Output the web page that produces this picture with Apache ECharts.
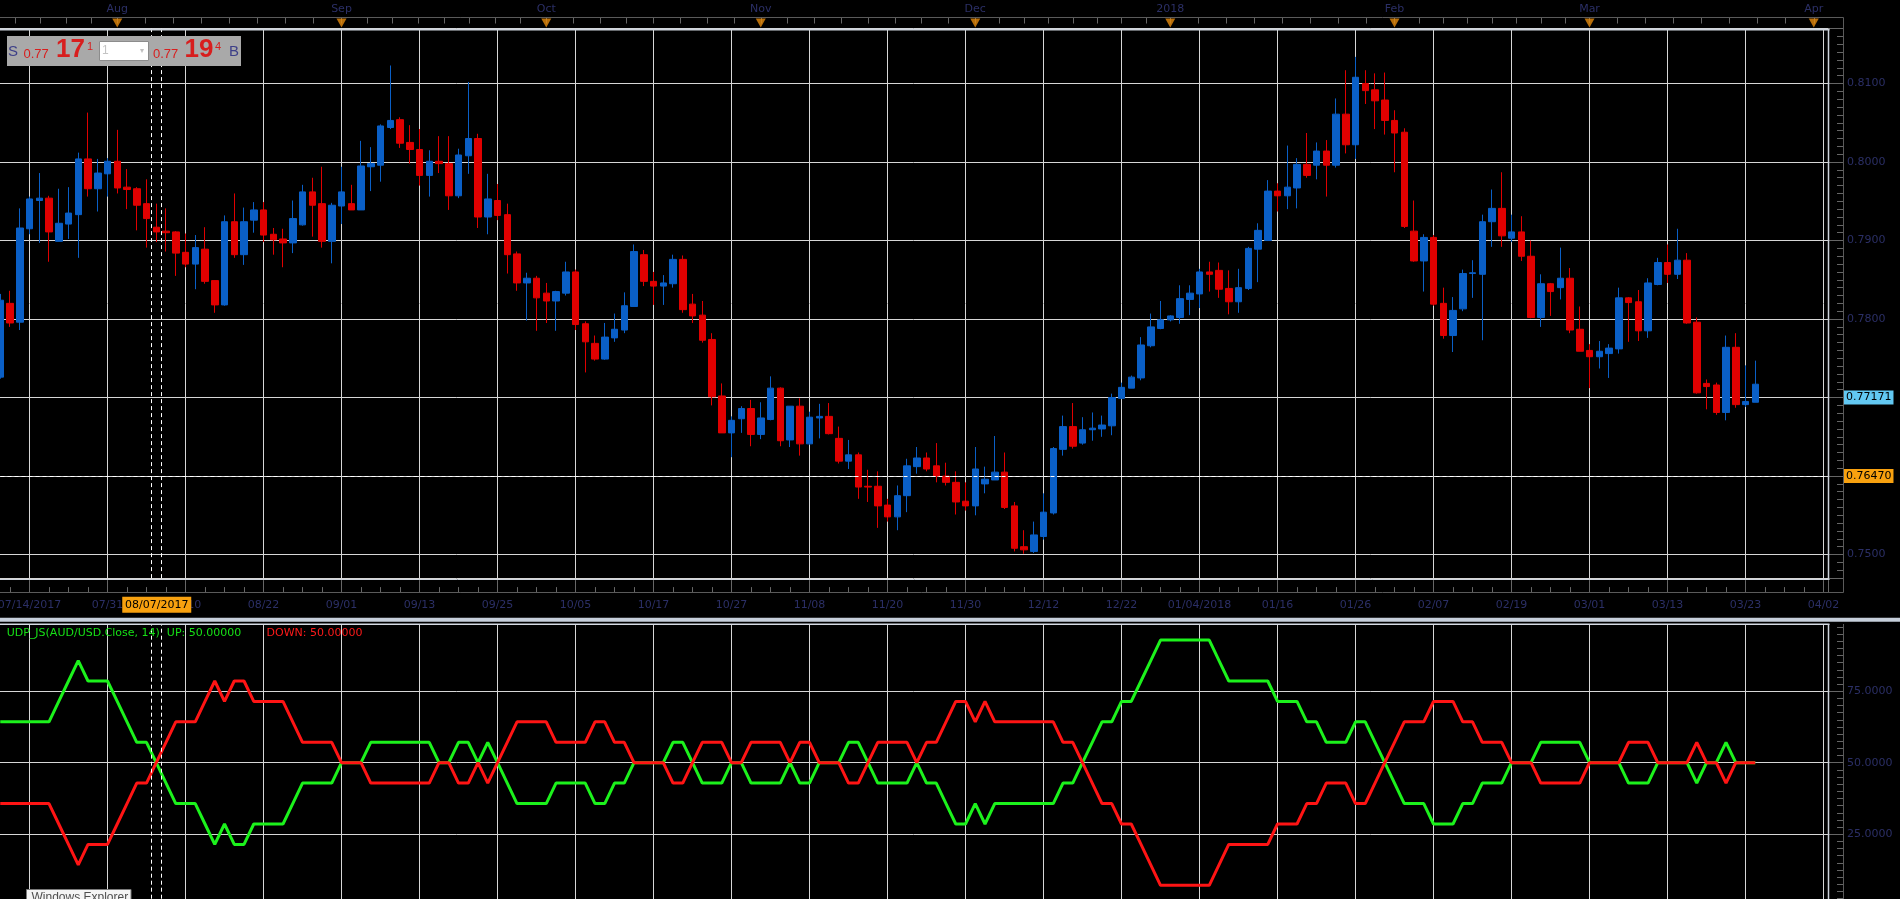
<!DOCTYPE html>
<html><head><meta charset="utf-8">
<script src="https://cdn.jsdelivr.net/npm/echarts@6/dist/echarts.min.js"></script>
<style>html,body{margin:0;padding:0;background:#000;overflow:hidden}#c{width:1900px;height:899px}</style>
</head><body><div id="c"></div>
<script>
// ---------------- DATA ----------------
const firstSlot = -3; // slot index of the first candle (slots are trading days, 0 = first labelled grid line)
const opens = [0.7726,0.7820,0.7796,0.7915,0.7951,0.7954,0.7899,0.7921,0.7933,0.8004,
 0.7966,0.7985,0.8001,0.7968,0.7966,0.7947,0.7917,0.7912,0.7911,0.7885,
 0.7870,0.7889,0.7849,0.7818,0.7924,0.7882,0.7926,0.7939,0.7908,0.7902,
 0.7897,0.7920,0.7962,0.7947,0.7899,0.7944,0.7947,0.7939,0.7994,0.7996,
 0.8044,0.8054,0.8025,0.8016,0.7983,0.8001,0.7998,0.7957,0.8008,0.8030,
 0.7930,0.7951,0.7933,0.7883,0.7846,0.7852,0.7833,0.7823,0.7833,0.7860,
 0.7794,0.7769,0.7749,0.7776,0.7786,0.7816,0.7882,0.7848,0.7842,0.7845,
 0.7876,0.7819,0.7805,0.7774,0.7702,0.7655,0.7673,0.7686,0.7653,0.7672,
 0.7712,0.7646,0.7689,0.7641,0.7674,0.7676,0.7648,0.7619,0.7627,0.7587,
 0.7587,0.7563,0.7548,0.7575,0.7612,0.7623,0.7613,0.7600,0.7592,0.7568,
 0.7562,0.7590,0.7595,0.7605,0.7562,0.7510,0.7504,0.7523,0.7553,0.7634,
 0.7663,0.7642,0.7659,0.7660,0.7664,0.7699,0.7712,0.7725,0.7766,0.7788,
 0.7799,0.7802,0.7825,0.7832,0.7860,0.7862,0.7839,0.7822,0.7839,0.7889,
 0.7900,0.7963,0.7957,0.7967,0.7997,0.7996,0.8014,0.7996,0.8061,0.8022,
 0.8100,0.8092,0.8079,0.8053,0.8038,0.7912,0.7874,0.7904,0.7820,0.7779,
 0.7813,0.7858,0.7857,0.7924,0.7941,0.7903,0.7911,0.7880,0.7802,0.7845,
 0.7840,0.7852,0.7787,0.7760,0.7752,0.7756,0.7762,0.7827,0.7822,0.7785,
 0.7844,0.7872,0.7857,0.7875,0.7796,0.7718,0.7716,0.7681,0.7764,0.7691,
 0.7694];
const closes = [0.7824,0.7795,0.7916,0.7953,0.7954,0.7911,0.7922,0.7935,0.8004,0.7966,
 0.7986,0.8001,0.7967,0.7965,0.7945,0.7928,0.7911,0.7910,0.7884,0.7870,
 0.7891,0.7848,0.7818,0.7924,0.7882,0.7924,0.7939,0.7907,0.7901,0.7897,
 0.7928,0.7962,0.7945,0.7899,0.7945,0.7962,0.7939,0.7995,0.7998,0.8046,
 0.8053,0.8024,0.8016,0.7983,0.8001,0.7998,0.7957,0.8009,0.8030,0.7930,
 0.7953,0.7932,0.7882,0.7846,0.7852,0.7827,0.7823,0.7835,0.7860,0.7793,
 0.7771,0.7749,0.7777,0.7787,0.7817,0.7886,0.7848,0.7842,0.7846,0.7876,
 0.7812,0.7804,0.7773,0.7701,0.7655,0.7671,0.7686,0.7653,0.7674,0.7712,
 0.7645,0.7689,0.7641,0.7675,0.7676,0.7654,0.7619,0.7627,0.7586,0.7586,
 0.7562,0.7548,0.7575,0.7613,0.7623,0.7609,0.7600,0.7592,0.7567,0.7562,
 0.7609,0.7596,0.7605,0.7560,0.7508,0.7506,0.7525,0.7554,0.7635,0.7663,
 0.7638,0.7659,0.7661,0.7665,0.7700,0.7713,0.7726,0.7767,0.7790,0.7799,
 0.7804,0.7826,0.7833,0.7860,0.7857,0.7838,0.7822,0.7840,0.7890,0.7913,
 0.7963,0.7957,0.7968,0.7997,0.7983,0.8014,0.7996,0.8061,0.8022,0.8108,
 0.8091,0.8078,0.8053,0.8037,0.7918,0.7874,0.7904,0.7819,0.7779,0.7811,
 0.7858,0.7859,0.7924,0.7941,0.7906,0.7911,0.7880,0.7802,0.7845,0.7835,
 0.7852,0.7786,0.7759,0.7752,0.7759,0.7763,0.7827,0.7821,0.7785,0.7846,
 0.7872,0.7857,0.7875,0.7795,0.7706,0.7714,0.7681,0.7764,0.7691,0.7695,
 0.7717];
const lows = [0.7724,0.7790,0.7786,0.7908,0.7897,0.7873,0.7899,0.7902,0.7878,0.7956,
 0.7937,0.7956,0.7960,0.7940,0.7913,0.7891,0.7898,0.7886,0.7855,0.7866,
 0.7838,0.7845,0.7808,0.7817,0.7878,0.7869,0.7910,0.7898,0.7882,0.7866,
 0.7884,0.7919,0.7905,0.7891,0.7871,0.7921,0.7939,0.7939,0.7963,0.7975,
 0.8042,0.8018,0.7998,0.7970,0.7956,0.7986,0.7939,0.7954,0.7985,0.7916,
 0.7908,0.7926,0.7858,0.7836,0.7798,0.7785,0.7795,0.7785,0.7830,0.7786,
 0.7732,0.7747,0.7748,0.7771,0.7782,0.7816,0.7842,0.7818,0.7818,0.7840,
 0.7808,0.7795,0.7770,0.7690,0.7655,0.7624,0.7655,0.7638,0.7647,0.7671,
 0.7638,0.7637,0.7626,0.7640,0.7648,0.7653,0.7616,0.7609,0.7571,0.7567,
 0.7534,0.7542,0.7531,0.7554,0.7603,0.7606,0.7592,0.7588,0.7551,0.7556,
 0.7550,0.7578,0.7595,0.7558,0.7504,0.7501,0.7502,0.7519,0.7551,0.7626,
 0.7635,0.7640,0.7645,0.7650,0.7652,0.7698,0.7712,0.7722,0.7764,0.7787,
 0.7797,0.7794,0.7805,0.7814,0.7835,0.7827,0.7806,0.7808,0.7837,0.7847,
 0.7900,0.7937,0.7940,0.7941,0.7980,0.7978,0.7956,0.7993,0.8011,0.8004,
 0.8074,0.8042,0.8035,0.7987,0.7916,0.7873,0.7835,0.7817,0.7775,0.7758,
 0.7810,0.7827,0.7773,0.7892,0.7892,0.7898,0.7874,0.7801,0.7790,0.7804,
 0.7825,0.7782,0.7759,0.7712,0.7737,0.7725,0.7756,0.7771,0.7772,0.7776,
 0.7843,0.7846,0.7851,0.7794,0.7705,0.7685,0.7678,0.7671,0.7687,0.7688,
 0.7694];
const highs = [0.7832,0.7836,0.7941,0.7956,0.7986,0.7957,0.7966,0.7968,0.8012,0.8063,
 0.8004,0.8005,0.8041,0.7991,0.7968,0.7978,0.7947,0.7941,0.7912,0.7909,
 0.7907,0.7917,0.7849,0.7932,0.7960,0.7942,0.7949,0.7949,0.7916,0.7915,
 0.7951,0.7971,0.7980,0.7994,0.7948,0.7994,0.7971,0.8027,0.8019,0.8048,
 0.8123,0.8057,0.8047,0.8042,0.8015,0.8033,0.8033,0.8017,0.8102,0.8036,
 0.7985,0.7972,0.7947,0.7886,0.7859,0.7855,0.7846,0.7836,0.7873,0.7863,
 0.7797,0.7779,0.7795,0.7807,0.7834,0.7895,0.7888,0.7860,0.7856,0.7882,
 0.7881,0.7832,0.7823,0.7782,0.7718,0.7676,0.7689,0.7697,0.7694,0.7727,
 0.7713,0.7689,0.7699,0.7682,0.7692,0.7693,0.7663,0.7646,0.7630,0.7608,
 0.7606,0.7571,0.7588,0.7622,0.7637,0.7630,0.7642,0.7617,0.7606,0.7592,
 0.7637,0.7612,0.7651,0.7630,0.7567,0.7531,0.7542,0.7578,0.7637,0.7677,
 0.7693,0.7675,0.7681,0.7677,0.7705,0.7719,0.7728,0.7777,0.7807,0.7823,
 0.7805,0.7843,0.7843,0.7864,0.7873,0.7872,0.7862,0.7864,0.7892,0.7922,
 0.7977,0.7973,0.8021,0.8005,0.8037,0.8025,0.8028,0.8081,0.8117,0.8134,
 0.8117,0.8113,0.8114,0.8066,0.8043,0.7951,0.7908,0.7907,0.7840,0.7828,
 0.7863,0.7875,0.7933,0.7965,0.7987,0.7933,0.7931,0.7900,0.7857,0.7846,
 0.7891,0.7865,0.7816,0.7768,0.7772,0.7768,0.7840,0.7828,0.7837,0.7852,
 0.7878,0.7895,0.7915,0.7884,0.7802,0.7723,0.7719,0.7779,0.7782,0.7741,
 0.7747];
// UDP indicator (14): UP and DOWN percentages, one per slot from firstSlot
const upPct = [64.29,64.29,64.29,64.29,64.29,64.29,71.43,78.57,85.71,78.57,78.57,78.57,71.43,
 64.29,57.14,57.14,50,42.86,35.71,35.71,35.71,28.57,21.43,
 28.57,21.43,21.43,28.57,28.57,28.57,28.57,35.71,42.86,42.86,
 42.86,42.86,50,50,50,57.14,57.14,57.14,57.14,57.14,
 57.14,57.14,50,50,57.14,57.14,50,57.14,50,42.86,
 35.71,35.71,35.71,35.71,42.86,42.86,42.86,42.86,35.71,35.71,
 42.86,42.86,50,50,50,50,57.14,57.14,50,42.86,
 42.86,42.86,50,50,42.86,42.86,42.86,42.86,50,42.86,
 42.86,50,50,50,57.14,57.14,50,42.86,42.86,42.86,
 42.86,50,42.86,42.86,35.71,28.57,28.57,35.71,28.57,35.71,
 35.71,35.71,35.71,35.71,35.71,35.71,42.86,42.86,50,57.14,
 64.29,64.29,71.43,71.43,78.57,85.71,92.86,92.86,92.86,92.86,
 92.86,92.86,85.71,78.57,78.57,78.57,78.57,78.57,71.43,71.43,
 71.43,64.29,64.29,57.14,57.14,57.14,64.29,64.29,57.14,50,
 42.86,35.71,35.71,35.71,28.57,28.57,28.57,35.71,35.71,42.86,
 42.86,42.86,50,50,50,57.14,57.14,57.14,57.14,57.14,
 50,50,50,50,42.86,42.86,42.86,50,50,50,
 50,42.86,50,50,57.14,50,50,50];
const downPct = [35.71,35.71,35.71,35.71,35.71,35.71,28.57,21.43,14.29,21.43,21.43,21.43,28.57,
 35.71,42.86,42.86,50,57.14,64.29,64.29,64.29,71.43,78.57,
 71.43,78.57,78.57,71.43,71.43,71.43,71.43,64.29,57.14,57.14,
 57.14,57.14,50,50,50,42.86,42.86,42.86,42.86,42.86,
 42.86,42.86,50,50,42.86,42.86,50,42.86,50,57.14,
 64.29,64.29,64.29,64.29,57.14,57.14,57.14,57.14,64.29,64.29,
 57.14,57.14,50,50,50,50,42.86,42.86,50,57.14,
 57.14,57.14,50,50,57.14,57.14,57.14,57.14,50,57.14,
 57.14,50,50,50,42.86,42.86,50,57.14,57.14,57.14,
 57.14,50,57.14,57.14,64.29,71.43,71.43,64.29,71.43,64.29,
 64.29,64.29,64.29,64.29,64.29,64.29,57.14,57.14,50,42.86,
 35.71,35.71,28.57,28.57,21.43,14.29,7.14,7.14,7.14,7.14,
 7.14,7.14,14.29,21.43,21.43,21.43,21.43,21.43,28.57,28.57,
 28.57,35.71,35.71,42.86,42.86,42.86,35.71,35.71,42.86,50,
 57.14,64.29,64.29,64.29,71.43,71.43,71.43,64.29,64.29,57.14,
 57.14,57.14,50,50,50,42.86,42.86,42.86,42.86,42.86,
 50,50,50,50,57.14,57.14,57.14,50,50,50,
 50,57.14,50,50,42.86,50,50,50];
const dateTickLabels = ['07/14/2017','07/31','08/10','08/22','09/01','09/13','09/25','10/05','10/17','10/27',
 '11/08','11/20','11/30','12/12','12/22','01/04/2018','01/16','01/26','02/07','02/19','03/01','03/13','03/23','04/02'];
const dateTickStep = 8;
const monthSlots = [9,32,53,75,97,117,140,160,183];
const monthLabels = ['Aug','Sep','Oct','Nov','Dec','2018','Feb','Mar','Apr'];
const prevMonthSlot = -12;
const crossSlot = 13, crossDate = '08/07/2017', crossPrice = 0.7647, lastPrice = 0.77171;
const studyName = 'UDP_JS(AUD/USD.Close, 14)';
const upAtCross = 50, downAtCross = 50;
const quote = {sellBig:'17', sellPip:'1', buyBig:'19', buyPip:'4', handle:'0.77', qty:'1'};

// ---------------- STYLE ----------------
const FONT = 'DejaVu Sans';
const NAVY = '#2b2f66';
const GRIDC = '#d6d6d6';
const AXC = '#666666';
const BLUE = '#0a5fc6', RED = '#e00000';
const GREEN_L = '#1cf21c', RED_L = '#ff1414';
const X0 = -8, XMAX = 184.46;
const GL = -48.5, GR = 72;

const candleData = opens.map((o, i) => [firstSlot + i, o, closes[i], lows[i], highs[i]]);
const upData = upPct.map((v, i) => [firstSlot + i, v]);
const downData = downPct.map((v, i) => [firstSlot + i, v]);

const topTicks = [];
(function(){ const all = [prevMonthSlot].concat(monthSlots);
  for (let m = 0; m < all.length - 1; m++) { for (let j = 0; j < 8; j++) { const t = all[m] + (all[m+1]-all[m]) * j / 8; if (t > X0) topTicks.push(t); } }
  topTicks.push(all[all.length-1]); })();

const dashed = {color:'#ffffff', type:[4,3], width:1};
const isMul = (v, s) => Math.abs(v / s - Math.round(v / s)) < 1e-6;
const noLine = {show:false, onZero:false};

const option = {
  backgroundColor: '#000',
  animation: false,
  textStyle: {fontFamily: FONT},
  grid: [
    {left: GL, right: GR, top: 28.6, height: 549.5, containLabel:false, outerBoundsMode:'none', show:false},
    {left: GL, right: GR, top: 619.7, height: 286, containLabel:false, outerBoundsMode:'none', show:false},
    {left: GL, right: GR, top: 17.5, height: 11, containLabel:false, outerBoundsMode:'none', show:false}
  ],
  xAxis: [
    {type:'value', gridIndex:0, min:X0, max:XMAX, interval:dateTickStep, position:'bottom', offset:14,
     axisLine:noLine,
     axisTick:{show:true, inside:true, length:12, lineStyle:{color:AXC}},
     minorTick:{show:true, splitNumber:4, length:5, lineStyle:{color:AXC}},
     axisLabel:{margin:8, color:NAVY, fontFamily:FONT, fontSize:11, hideOverlap:false,
       formatter: v => { if (!isMul(v, dateTickStep)) return ''; const k = Math.round(v / dateTickStep); return (k >= 0 && dateTickLabels[k]) || ''; }},
     splitLine:{show:true, lineStyle:{color:GRIDC, width:1}}},
    {type:'value', gridIndex:1, min:X0, max:XMAX, interval:dateTickStep,
     axisLine:noLine, axisTick:{show:false}, axisLabel:{show:false},
     splitLine:{show:true, lineStyle:{color:GRIDC, width:1}}},
    {type:'value', gridIndex:2, min:X0, max:XMAX, position:'top',
     axisLine:noLine,
     axisTick:{show:true, inside:true, length:6, customValues: topTicks, lineStyle:{color:AXC}},
     axisLabel:{show:true, margin:3, color:NAVY, fontFamily:FONT, fontSize:11, customValues: monthSlots,
       formatter: v => { const k = monthSlots.findIndex(s => Math.abs(s - v) < 1e-6); return k >= 0 ? monthLabels[k] : ''; }},
     splitLine:{show:false}}
  ],
  yAxis: [
    {type:'value', gridIndex:0, position:'right', offset:15, min:0.747, max:0.817, splitNumber:7,
     axisLine:noLine,
     axisTick:{show:true, inside:true, length:14, lineStyle:{color:AXC}},
     minorTick:{show:true, splitNumber:10, length:6, lineStyle:{color:AXC}},
     axisLabel:{margin:4, color:NAVY, fontFamily:FONT, fontSize:11, formatter: v => isMul(v, 0.01) ? v.toFixed(4) : ''},
     splitLine:{show:true, lineStyle:{color:GRIDC, width:1}}},
    {type:'value', gridIndex:1, position:'right', offset:15, min:0, max:100, interval:25,
     axisLine:noLine,
     axisTick:{show:true, inside:true, length:14, lineStyle:{color:AXC}},
     minorTick:{show:true, splitNumber:10, length:6, lineStyle:{color:AXC}},
     axisLabel:{margin:4, color:NAVY, fontFamily:FONT, fontSize:11, formatter: v => (v > 0 && v < 100) ? v.toFixed(4) : ''},
     splitLine:{show:true, lineStyle:{color:GRIDC, width:1}}},
    {type:'value', gridIndex:2, min:0, max:1, show:false, axisLine:noLine}
  ],
  series: [
    {type:'candlestick', xAxisIndex:0, yAxisIndex:0, data: candleData, barWidth: 7,
     itemStyle:{color:BLUE, color0:RED, borderColor:BLUE, borderColor0:RED, borderWidth:1},
     markLine:{symbol:['none','none'], silent:true, animation:false, lineStyle:dashed, label:{show:false},
       data:[
         {xAxis: crossSlot - 0.5},
         {xAxis: crossSlot + 0.5},
         {yAxis: crossPrice, label:{show:true, position:'end', distance:16, formatter: () => crossPrice.toFixed(5),
           backgroundColor:'#f8a10f', color:'#000', fontFamily:FONT, fontSize:11, padding:[2,2,1,2]}},
         {yAxis: lastPrice, lineStyle:{color:'rgba(0,0,0,0)', width:0.01, type:'solid'}, label:{show:true, position:'end', distance:16, formatter: () => lastPrice.toFixed(5),
           backgroundColor:'#62c8f2', color:'#000', fontFamily:FONT, fontSize:11, padding:[2,2,1,2]}}
       ]}},
    {type:'line', xAxisIndex:1, yAxisIndex:1, data: upData, symbol:'none', lineStyle:{color:GREEN_L, width:3}, itemStyle:{color:GREEN_L},
     markLine:{symbol:['none','none'], silent:true, animation:false, lineStyle:dashed, label:{show:false},
       data:[{xAxis: crossSlot - 0.5},{xAxis: crossSlot + 0.5}]}},
    {type:'line', xAxisIndex:1, yAxisIndex:1, data: downData, symbol:'none', lineStyle:{color:RED_L, width:3}, itemStyle:{color:RED_L}},
    {type:'scatter', xAxisIndex:2, yAxisIndex:2, data: monthSlots.map(s => [s, 0.5]), symbol:'triangle', symbolRotate:180,
     symbolSize:[10,9], itemStyle:{color:'#e5890b'}, clip:false, silent:true}
  ]
};

const chart = echarts.init(document.getElementById('c'), null, {renderer:'canvas', width:1900, height:899});
chart.setOption(option);

// ---------------- GRAPHICS (frame, widget, study legend) ----------------
const L = (x1,y1,x2,y2,stroke,lw,z) => ({type:'line', silent:true, z: z || 60, shape:{x1,y1,x2,y2}, style:{stroke, lineWidth:lw}});
const T = (x,y,text,font,fill,z,align) => ({type:'text', silent:true, z: z || 101, x, y, style:{text, font, fill, textAlign: align || 'left', textVerticalAlign:'middle'}});
const crossX = chart.convertToPixel({xAxisIndex:0}, crossSlot);
const els = [
  L(0,17.5,1843.5,17.5,'#5a5a5a',1),
  L(1843.5,17.5,1843.5,592.5,'#5a5a5a',1),
  L(0,592.5,1843.5,592.5,'#5a5a5a',1),
  L(0,29.5,1829.5,29.5,'#cdd3dc',2),
  L(1828.5,29,1828.5,580,'#cdd3dc',1.5),
  L(0,579.5,1829.5,579.5,'#cdd3dc',1),
  {type:'rect', silent:true, z:55, shape:{x:0,y:613,width:1900,height:11}, style:{fill:'#000'}},
  {type:'rect', silent:true, z:56, shape:{x:0,y:617.7,width:1900,height:4}, style:{fill:'#c6cfdb'}},
  L(0,624.2,1829.5,624.2,'#d6dce5',1.5),
  L(1828.5,624,1828.5,899,'#cdd3dc',1.5),
  L(1843.5,624,1843.5,899,'#5a5a5a',1),
  // crosshair date badge
  {type:'rect', silent:true, z:70, shape:{x: crossX - 34, y:596.7, width:69, height:16}, style:{fill:'#f8a10f'}},
  T(crossX + 0.5, 605, crossDate, '11px "DejaVu Sans"', '#000', 71, 'center'),
  // quote widget
  {type:'rect', silent:true, z:100, shape:{x:7,y:36,width:234,height:30}, style:{fill:'#a9a9a9'}},
  T(8, 51.5, 'S', '15px "Liberation Sans"', '#3d3f88'),
  T(23.5, 54.5, quote.handle, '13px "Liberation Sans"', '#d81e1e'),
  T(56, 50, quote.sellBig, 'bold 26px "Liberation Sans"', '#d81e1e'),
  T(87, 46.5, quote.sellPip, '11px "Liberation Sans"', '#d81e1e'),
  {type:'rect', silent:true, z:100, shape:{x:99.5,y:41.5,width:49,height:19}, style:{fill:'#ffffff', stroke:'#8c8c8c', lineWidth:1}},
  T(102, 51, quote.qty, '12px "Liberation Sans"', '#c4c4c4'),
  T(142, 51, '\u25BE', '8px "DejaVu Sans"', '#c0c0c0', 101, 'center'),
  T(153, 54.5, quote.handle, '13px "Liberation Sans"', '#d81e1e'),
  T(184.5, 50, quote.buyBig, 'bold 26px "Liberation Sans"', '#d81e1e'),
  T(215, 46.5, quote.buyPip, '11px "Liberation Sans"', '#d81e1e'),
  T(229, 51.5, 'B', '15px "Liberation Sans"', '#3d3f88'),
  // study legend
  T(6.7, 632.8, studyName + '  UP: ' + upAtCross.toFixed(5), '11px "DejaVu Sans"', '#16e016', 80),
  T(266.5, 632.8, 'DOWN: ' + downAtCross.toFixed(5), '11px "DejaVu Sans"', '#ff1a1a', 80),
  // OS tooltip
  {type:'rect', silent:true, z:110, shape:{x:26.5,y:889.5,width:104.5,height:14}, style:{fill:'#f4f4f4', stroke:'#7a7a7a', lineWidth:1}},
  T(31.5, 898, 'Windows Explorer', '12px "Liberation Sans"', '#4e4e4e', 111)
];
chart.setOption({graphic:{elements: els}});
</script></body></html>
